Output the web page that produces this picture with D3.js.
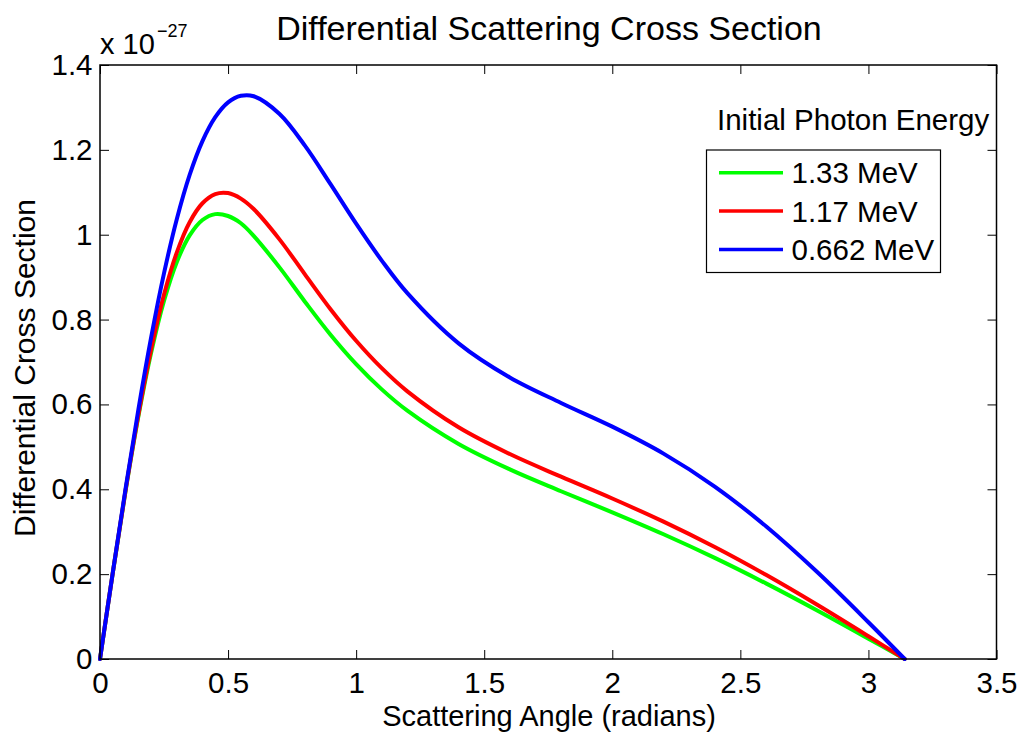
<!DOCTYPE html>
<html>
<head>
<meta charset="utf-8">
<script src="https://cdn.jsdelivr.net/npm/d3@7"></script>
<style>
  html, body { margin: 0; padding: 0; background: #fff; }
  svg { display: block; font-family: "Liberation Sans", Arial, Helvetica, sans-serif; }
</style>
</head>
<body>
<svg id="chart" width="1021" height="732"></svg>
<script>
// Scattering angle (radians)
const angles = [0, 0.05, 0.1, 0.15, 0.2, 0.25, 0.3, 0.35, 0.4, 0.45, 0.5, 0.55, 0.6, 0.7, 0.8, 0.9, 1.0, 1.1, 1.2, 1.4, 1.6, 1.8, 2.0, 2.2, 2.4, 2.6, 2.8, 3.0, 3.1416];
// Differential cross section values (x 10^-27)
const e133 = [0, 0.2033, 0.3969, 0.5722, 0.7226, 0.8442, 0.9358, 0.9984, 1.0347, 1.0485, 1.0441, 1.0270, 0.9974, 0.9236, 0.8422, 0.7643, 0.6950, 0.6355, 0.5853, 0.5068, 0.4469, 0.3954, 0.3457, 0.2940, 0.2383, 0.1782, 0.1144, 0.0479, 0];
const e117 = [0, 0.2035, 0.3981, 0.5761, 0.7310, 0.8591, 0.9584, 1.0295, 1.0742, 1.0959, 1.0982, 1.0851, 1.0605, 0.9896, 0.9066, 0.8245, 0.7500, 0.6854, 0.6308, 0.5461, 0.4830, 0.4297, 0.3782, 0.3237, 0.2639, 0.1983, 0.1277, 0.0536, 0];
const e0662 = [0, 0.2040, 0.4021, 0.5887, 0.7590, 0.9094, 1.0371, 1.1410, 1.2207, 1.2771, 1.3120, 1.3274, 1.3263, 1.2850, 1.2099, 1.1191, 1.0260, 0.9390, 0.8622, 0.7439, 0.6635, 0.6035, 0.5476, 0.4841, 0.4065, 0.3128, 0.2049, 0.0867, 0];

const seriesNames = ["1.33 MeV", "1.17 MeV", "0.662 MeV"];
const seriesColors = ["#00ff00", "#ff0000", "#0000ff"];
const seriesValues = [e133, e117, e0662];

const xTickValues = [0, 0.5, 1, 1.5, 2, 2.5, 3, 3.5];
const xTickLabels = ["0", "0.5", "1", "1.5", "2", "2.5", "3", "3.5"];
const yTickValues = [0, 0.2, 0.4, 0.6, 0.8, 1.0, 1.2, 1.4];
const yTickLabels = ["0", "0.2", "0.4", "0.6", "0.8", "1", "1.2", "1.4"];

const titleText = "Differential Scattering Cross Section";
const xLabelText = "Scattering Angle (radians)";
const yLabelText = "Differential Cross Section";
const legendTitle = "Initial Photon Energy";

const svg = d3.select("#chart");
const L = 100, R = 996.5, T = 65, B = 659;

const x = d3.scaleLinear().domain([0, 3.5]).range([L, R]);
const y = d3.scaleLinear().domain([0, 1.4]).range([B, T]);

const tickFont = "29.5px";

// Axes
const xAxisB = d3.axisBottom(x).tickValues(xTickValues)
  .tickFormat((d, i) => xTickLabels[i]).tickSizeInner(-9).tickSizeOuter(0).tickPadding(13);
const xAxisT = d3.axisTop(x).tickValues(xTickValues).tickFormat("").tickSizeInner(-9).tickSizeOuter(0);
const yAxisL = d3.axisLeft(y).tickValues(yTickValues)
  .tickFormat((d, i) => yTickLabels[i]).tickSizeInner(-9).tickSizeOuter(0).tickPadding(7.5);
const yAxisR = d3.axisRight(y).tickValues(yTickValues).tickFormat("").tickSizeInner(-9).tickSizeOuter(0);

function styleAxis(g) {
  g.select(".domain").remove();
  g.selectAll(".tick line").attr("stroke", "#000").attr("stroke-width", 1);
  g.selectAll(".tick text").attr("fill", "#000").style("font-size", tickFont)
    .style("font-family", "'Liberation Sans', Arial, Helvetica, sans-serif");
}

svg.append("g").attr("transform", `translate(0,${B})`).call(xAxisB).call(styleAxis);
svg.append("g").attr("transform", `translate(0,${T})`).call(xAxisT).call(styleAxis);
svg.append("g").attr("transform", `translate(${L},0)`).call(yAxisL).call(styleAxis);
svg.append("g").attr("transform", `translate(${R},0)`).call(yAxisR).call(styleAxis);

// Curves
const line = d3.line()
  .x((d, i) => x(angles[i]))
  .y(d => y(d))
  .curve(d3.curveCatmullRom.alpha(0.5));

seriesValues.forEach((vals, k) => {
  svg.append("path")
    .datum(vals)
    .attr("d", line)
    .attr("fill", "none")
    .attr("stroke", seriesColors[k])
    .attr("stroke-width", 4)
    .attr("stroke-linejoin", "round")
    .attr("stroke-linecap", "round");
});

// Axes box
svg.append("rect")
  .attr("x", L).attr("y", T).attr("width", R - L).attr("height", B - T)
  .attr("fill", "none").attr("stroke", "#000").attr("stroke-width", 1.5);

// Title
svg.append("text").attr("x", 549).attr("y", 40).attr("text-anchor", "middle")
  .style("font-size", "34px").attr("fill", "#000").text(titleText);

// Exponent label
const ex = svg.append("text").attr("x", 100).attr("y", 54).attr("fill", "#000").style("font-size", "29px");
ex.append("tspan").text("x 10");
ex.append("tspan").attr("x", 157).attr("y", 37).style("font-size", "18px").text("\u221227");

// Axis labels
svg.append("text").attr("x", 549).attr("y", 726).attr("text-anchor", "middle")
  .style("font-size", "29px").attr("fill", "#000").text(xLabelText);
svg.append("text").attr("transform", "translate(35,368) rotate(-90)").attr("text-anchor", "middle")
  .style("font-size", "30px").attr("fill", "#000").text(yLabelText);

// Legend
svg.append("text").attr("x", 717).attr("y", 130).style("font-size", "29.5px").attr("fill", "#000").text(legendTitle);
svg.append("rect").attr("x", 706.5).attr("y", 150).attr("width", 234).attr("height", 122.5)
  .attr("fill", "#fff").attr("stroke", "#000").attr("stroke-width", 1.2);
const legendY = [172.7, 211, 249.5];
seriesNames.forEach((name, k) => {
  svg.append("line").attr("x1", 719).attr("x2", 783).attr("y1", legendY[k]).attr("y2", legendY[k])
    .attr("stroke", seriesColors[k]).attr("stroke-width", 3.5);
  svg.append("text").attr("x", 791.5).attr("y", legendY[k] + 10.5).style("font-size", "29.5px")
    .attr("fill", "#000").text(name);
});
</script>
</body>
</html>
